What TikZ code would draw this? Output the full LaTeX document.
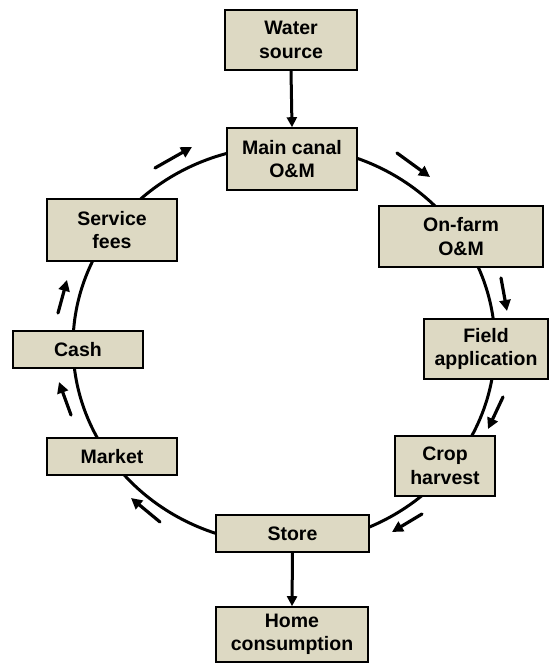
\documentclass[tikz,border=0pt]{standalone}
\usepackage{fontspec}
\setmainfont{Liberation Sans}
\usetikzlibrary{arrows.meta}
\definecolor{boxfill}{RGB}{221,217,195}
\begin{document}
\begin{tikzpicture}[x=1pt,y=-1pt,
  stage/.style={draw=black,line width=1.6pt,fill=boxfill,inner sep=0pt,
    align=center,font=\fontsize{19.5}{23.5}\selectfont\bfseries},
  link/.style={line width=3pt,-{Triangle[length=10pt,width=10pt]}},
  flow/.style={line width=3.2pt,line cap=round,-{Triangle[length=11pt,width=11pt]}},
  cycleline/.style={line width=3pt}]
\useasboundingbox (0,0) rectangle (553,667);

% the cycle, drawn behind the boxes
\draw[cycleline] (284,345) ellipse [x radius=211, y radius=199];

% boxes
\node[stage,minimum width=132pt,minimum height=60pt] (water) at (291,40) {Water\\source};
\node[stage,minimum width=130pt,minimum height=62pt] (canal) at (292,159) {Main canal\\O\&M};
\node[stage,minimum width=164pt,minimum height=61pt] (onfarm) at (461,236.5) {On-farm\\O\&M};
\node[stage,minimum width=124pt,minimum height=60pt] (field) at (486,349) {Field\\application};
\node[stage,minimum width=100pt,minimum height=60pt] (crop) at (445,466) {Crop\\harvest};
\node[stage,minimum width=153pt,minimum height=37pt] (store) at (292.5,533.5) {Store};
\node[stage,minimum width=152pt,minimum height=55pt] (home) at (292,634.5) {Home\\consumption};
\node[stage,minimum width=130pt,minimum height=37pt] (market) at (112,456.5) {Market};
\node[stage,minimum width=130pt,minimum height=37pt] (cash) at (78,349.5) {Cash};
\node[stage,minimum width=130pt,minimum height=62pt] (fees) at (112,230) {Service\\fees};

% inflow and outflow
\draw[link] (water.south) -- (canal.north);
\draw[link] (store.south) -- (home.north);

% direction markers along the cycle
\coordinate (f1a) at (155,168); \coordinate (f1b) at (192,147);
\coordinate (f2a) at (397,153); \coordinate (f2b) at (430,177);
\coordinate (f3a) at (501,278); \coordinate (f3b) at (507,311);
\coordinate (f4a) at (503,397); \coordinate (f4b) at (488,429);
\coordinate (f5a) at (422,514); \coordinate (f5b) at (392,532);
\coordinate (f6a) at (160,522); \coordinate (f6b) at (131,498);
\coordinate (f7a) at (71,415);  \coordinate (f7b) at (59,382);
\coordinate (f8a) at (58,313);  \coordinate (f8b) at (67,280);
\foreach \i in {1,...,8} \draw[flow] (f\i a) -- (f\i b);
\end{tikzpicture}
\end{document}
